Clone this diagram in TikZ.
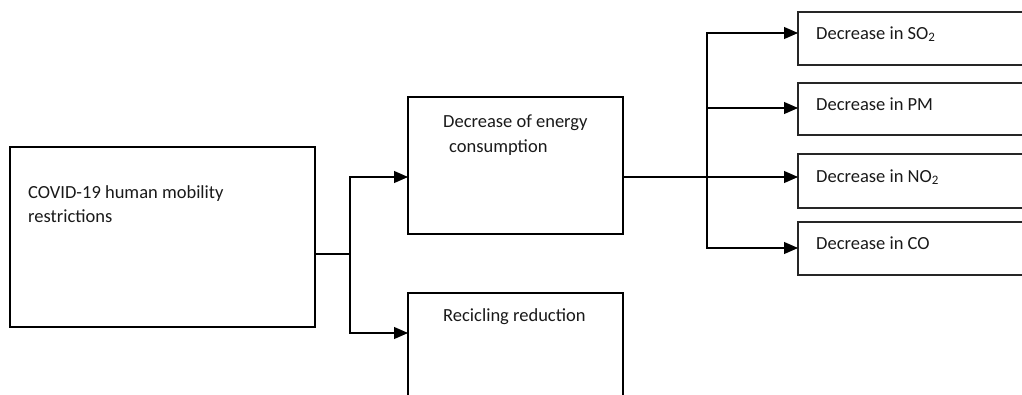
\documentclass[tikz,border=0pt]{standalone}
\usepackage{fontspec}
\setmainfont{Carlito}
\usetikzlibrary{arrows.meta}
\begin{document}
\begin{tikzpicture}[x=1pt,y=-1pt,
  bigbox/.style={draw=black,line width=2pt,rectangle,anchor=north west,inner sep=0pt,outer sep=0pt},
  smallbox/.style={draw=black!85,line width=1.2pt,rectangle,anchor=north west,inner sep=0pt,outer sep=0pt},
  txt/.style={anchor=base west,inner sep=0pt,font=\fontsize{18.5}{21}\selectfont,text=black!90},
  conn/.style={draw=black,line width=1.1pt},
  arr/.style={conn,-{Triangle[length=14pt,width=12pt]}}]
\useasboundingbox (0,0) rectangle (1022,394);
\clip (0,0) rectangle (1022,394);
% boxes
\node[bigbox,minimum width=305pt,minimum height=180pt] (covid) at (10,147) {};
\node[bigbox,minimum width=215pt,minimum height=137pt] (energy) at (408,97) {};
\node[bigbox,minimum width=215pt,minimum height=140pt] (recycle) at (408,293) {};
\node[smallbox,minimum width=260pt,minimum height=53pt] (so2) at (798,12) {};
\node[smallbox,minimum width=260pt,minimum height=52pt] (pm) at (798,83) {};
\node[smallbox,minimum width=260pt,minimum height=54pt] (no2) at (798,154) {};
\node[smallbox,minimum width=260pt,minimum height=53pt] (co) at (798,222) {};
% texts
\node[txt] (covidA) at (28,198) {COVID-19 human mobility};
\node[txt] (covidB) at (28,222) {restrictions};
\node[txt] (energyA) at (443,127) {Decrease of energy};
\node[txt] (energyB) at (449,152) {consumption};
\node[txt] (recycleA) at (443,321) {Recicling reduction};
\node[txt] (so2t) at (816,39) {Decrease in SO\textsubscript{2}};
\node[txt] (pmt) at (816,110) {Decrease in PM};
\node[txt] (no2t) at (816,182) {Decrease in NO\textsubscript{2}};
\node[txt] (cot) at (816,249) {Decrease in CO};
% connectors
\coordinate (j1) at (350,254);
\coordinate (j2) at (707,177);
\draw[conn] (covid.east |- j1) -- (j1);
\draw[arr] (j1) |- (energy.west |- 0,177);
\draw[arr] (j1) |- (recycle.west |- 0,333);
\draw[conn] (energy.east |- j2) -- (j2);
\draw[arr] (j2) |- (so2.west |- 0,33);
\draw[arr] (j2) |- (pm.west |- 0,108);
\draw[arr] (j2) -- (no2.west |- j2);
\draw[arr] (j2) |- (co.west |- 0,248);
\end{tikzpicture}
\end{document}
